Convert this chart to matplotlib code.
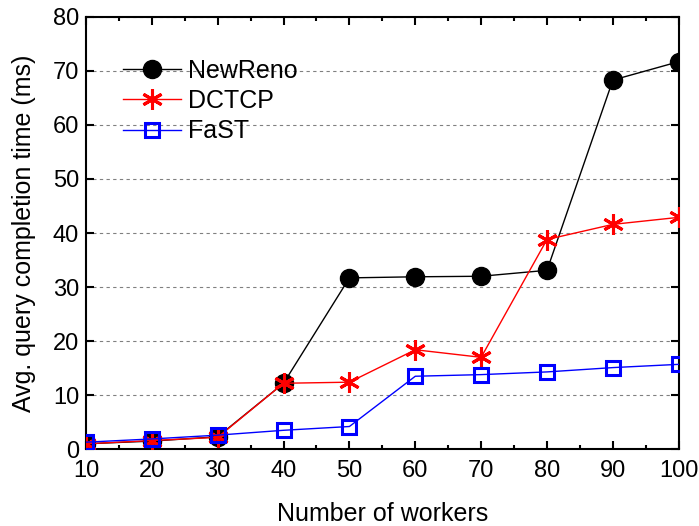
import numpy as np
import matplotlib.pyplot as plt
from matplotlib.ticker import MultipleLocator

plt.rcParams['font.family'] = ['Liberation Sans', 'DejaVu Sans']

# data
workers = [10, 20, 30, 40, 50, 60, 70, 80, 90, 100]
newreno = [1.0, 1.5, 2.3, 12.2, 31.7, 31.9, 32.0, 33.1, 68.3, 71.7]
dctcp = [1.0, 1.6, 2.2, 12.2, 12.4, 18.4, 17.0, 38.8, 41.6, 42.9]
fast = [1.3, 1.9, 2.6, 3.5, 4.2, 13.5, 13.8, 14.3, 15.1, 15.7]

fig = plt.figure(figsize=(6.99, 5.26), dpi=100)
ax = fig.add_axes([0.123, 0.146, 0.848, 0.822])

ax.plot(workers, newreno, color='black', lw=1, marker='o', ms=13,
        mfc='black', mec='black', label='NewReno', zorder=3)
ax.plot(workers, dctcp, color='red', lw=1, marker=(6, 2, 0), ms=15,
        mew=2.2, mec='red', label='DCTCP', zorder=4)
ax.plot(workers, fast, color='blue', lw=1, marker='s', ms=10,
        mfc='none', mec='blue', mew=2.2, label='FaST', zorder=5)

ax.set_xlim(10, 100)
ax.set_ylim(0, 80)
ax.xaxis.set_major_locator(MultipleLocator(10))
ax.xaxis.set_minor_locator(MultipleLocator(5))
ax.yaxis.set_major_locator(MultipleLocator(10))
ax.tick_params(which='both', direction='in', top=True, right=True,
               labelsize=17, width=1.5)
ax.tick_params(which='major', length=6)
ax.tick_params(which='minor', length=3)
ax.tick_params(axis='x', pad=8)
ax.tick_params(axis='y', pad=5)
ax.grid(axis='y', which='major', ls=(0, (3, 3)), color='gray', lw=0.8)
for s in ax.spines.values():
    s.set_linewidth(1.5)

ax.set_xlabel('Number of workers', fontsize=18, labelpad=14)
ax.set_ylabel('Avg. query completion time (ms)', fontsize=18, labelpad=12)

ax.legend(loc='upper left', bbox_to_anchor=(0.025, 0.955), frameon=False,
          fontsize=18, handlelength=2.3, handletextpad=0.3,
          labelspacing=0.25)

fig.savefig('out.png', dpi=100)
